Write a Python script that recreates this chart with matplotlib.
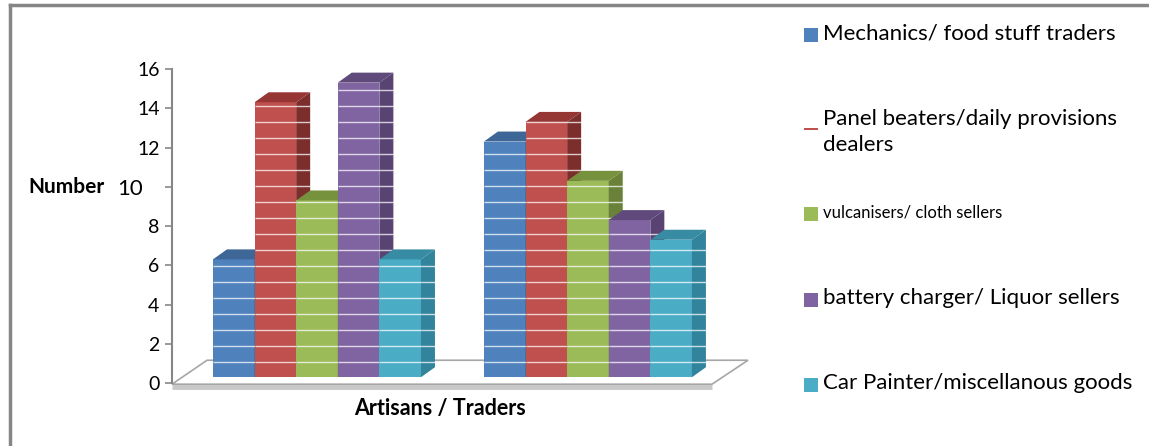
import numpy as np
import matplotlib.pyplot as plt
from matplotlib.patches import Polygon, Rectangle
from matplotlib.lines import Line2D
import matplotlib.transforms as mtransforms

plt.rcParams['font.family'] = ['Lato', 'DejaVu Sans']

# data
groups = ['Artisans', 'Traders']
series = ['Mechanics/ food stuff traders',
          'Panel beaters/daily provisions\ndealers',
          'vulcanisers/ cloth sellers',
          'battery charger/ Liquor sellers',
          'Car Painter/miscellanous goods']
values = [[6, 12],
          [14, 13],
          [9, 10],
          [15, 8],
          [6, 7]]
yticks = [0, 2, 4, 6, 8, 10, 12, 14, 16]

front = ['#4F81BD', '#C0504D', '#9BBB59', '#8064A2', '#4BACC6']
side = ['#385D8A', '#7B2E2C', '#6A8139', '#584373', '#31849B']
top = ['#3E6697', '#963634', '#76923C', '#5F4A7B', '#378CA4']

W, H = 1149, 446
fig = plt.figure(figsize=(W / 100, H / 100), dpi=100)

# axes placed in pixel terms
px_left, px_right, px_top, px_bot = 172, 760, 69, 395
ax = fig.add_axes([px_left / W, 1 - px_bot / H,
                   (px_right - px_left) / W, (px_bot - px_top) / H])
ymin, ymax = -0.6, 16
xmin, xmax = -0.535, 1.635
ax.set_xlim(xmin, xmax)
ax.set_ylim(ymin, ymax)

ppx = (px_right - px_left) / (xmax - xmin)   # pixels per x unit
ppy = (px_bot - px_top) / (ymax - ymin)      # pixels per y unit

bw = 41.6 / ppx
dx = 14 / ppx
dy = 10 / ppy
base = 6 / ppy

# floor
floor = Polygon([(xmin, -0.05), (xmin + 35 / ppx, 1.17),
                 (xmin + 576 / ppx, 1.17), (xmin + 540 / ppx, -0.05)],
                closed=True, facecolor='white', edgecolor='#A6A6A6',
                linewidth=1.2, zorder=1, clip_on=False)
ax.add_patch(floor)
ax.plot([xmin, xmin + 540 / ppx], [-0.2, -0.2], color='#C8C8C8',
        linewidth=3.5, zorder=0.9, clip_on=False, solid_capstyle='butt')

z = 2
for g in range(len(groups)):
    for i in range(len(series)):
        v = values[i][g]
        x0 = g + (i - 2.5) * bw
        x1 = x0 + bw
        y0, y1 = base, base + v
        ax.add_patch(Rectangle((x0, y0), bw, v, facecolor=front[i],
                               edgecolor='none', zorder=z))
        ax.add_patch(Polygon([(x1, y0), (x1 + dx, y0 + dy), (x1 + dx, y1 + dy), (x1, y1)],
                             closed=True, facecolor=side[i], edgecolor='none', zorder=z))
        ax.add_patch(Polygon([(x0, y1), (x0 + dx, y1 + dy), (x1 + dx, y1 + dy), (x1, y1)],
                             closed=True, facecolor=top[i], edgecolor='none', zorder=z))
        gl = np.arange(y0 + 15 / ppy, y1, 16 / ppy)
        ax.hlines(gl, x0, x1 + dx, colors='white', linewidth=1.0, alpha=0.75, zorder=z + 0.5)
        z += 1

# y axis
for s in ['top', 'right', 'bottom']:
    ax.spines[s].set_visible(False)
ax.spines['left'].set_bounds(0, 16)
ax.spines['left'].set_color('#868686')
ax.spines['left'].set_linewidth(1.5)
ax.set_xticks([])
ax.set_yticks(yticks)
ax.set_yticklabels([str(t) for t in yticks])
ax.tick_params(axis='y', direction='out', length=5, width=1.2, color='#868686',
               labelsize=14, pad=4)
for lab in ax.get_yticklabels():
    if lab.get_text() == '10':
        lab.set_fontsize(16)
        lab.set_transform(lab.get_transform() +
                          mtransforms.ScaledTranslation(-0.17, 0, fig.dpi_scale_trans))

fig.text(66 / W, 1 - 187 / H, 'Number', fontsize=15, fontweight='bold',
         ha='center', va='center')
fig.text(440 / W, 1 - 409 / H, 'Artisans / Traders', fontsize=15.5, fontweight='bold',
         ha='center', va='center')

# legend
leg_y = [33, 122, 212, 298, 383]
leg_fs = [16, 16, 12, 16, 16]
for i, name in enumerate(series):
    yc = leg_y[i]
    if i == 1:
        fig.patches.append(Rectangle((804 / W, 1 - 130 / H), 14 / W, 2 / H,
                                     transform=fig.transFigure, facecolor=front[i],
                                     edgecolor='none'))
        fig.text(823 / W, 1 - (yc - 13) / H, name, fontsize=leg_fs[i], ha='left',
                 va='top', linespacing=1.35)
    else:
        fig.patches.append(Rectangle((804 / W, 1 - (yc + 9) / H), 14 / W, 14 / H,
                                     transform=fig.transFigure, facecolor=front[i],
                                     edgecolor='none'))
        fig.text(823 / W, 1 - yc / H, name, fontsize=leg_fs[i], ha='left', va='center')

# outer frame (top and left edges)
fig.add_artist(Line2D([10 / W, 1], [1 - 5 / H, 1 - 5 / H], color='#868686',
                      linewidth=2.5, transform=fig.transFigure))
fig.add_artist(Line2D([10 / W, 10 / W], [0, 1 - 5 / H], color='#868686',
                      linewidth=2.5, transform=fig.transFigure))

fig.savefig('out.png', dpi=100, facecolor='white')
